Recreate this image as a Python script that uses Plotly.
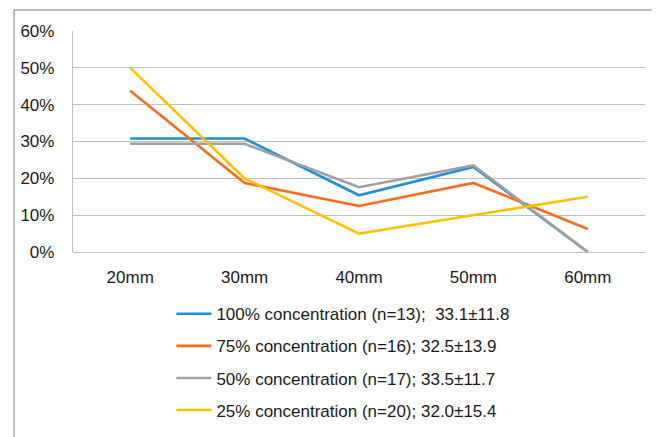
import plotly.graph_objects as go

categories = ["20mm", "30mm", "40mm", "50mm", "60mm"]
s100 = [30.8, 30.8, 15.4, 23.1, 0.0]
s75 = [43.75, 18.75, 12.5, 18.75, 6.25]
s50 = [29.4, 29.4, 17.6, 23.5, 0.0]
s25 = [50.0, 20.0, 5.0, 10.0, 15.0]
names = [
    "100% concentration (n=13);  33.1±11.8",
    "75% concentration (n=16); 32.5±13.9",
    "50% concentration (n=17); 33.5±11.7",
    "25% concentration (n=20); 32.0±15.4",
]
colors = ["#1E8FD8", "#FF6A1A", "#A0A0A0", "#FFC000"]
y_ticks = [0, 10, 20, 30, 40, 50, 60]
y_labels = ["0%", "10%", "20%", "30%", "40%", "50%", "60%"]

fig = go.Figure()
for i, (vals, nm, col) in enumerate(zip([s100, s75, s50, s25], names, colors)):
    fig.add_trace(go.Scatter(
        x=categories, y=vals, name=nm, mode="lines",
        line=dict(color=col, width=2.6),
        legendgroup=f"g{i}",
    ))

font = "Liberation Sans"
fig.update_layout(
    width=660, height=437,
    margin=dict(l=60, r=23, t=23, b=193),
    paper_bgcolor="white", plot_bgcolor="white",
    font=dict(family=font, size=17, color="#1a1a1a"),
    showlegend=True,
    legend=dict(
        x=0.172, y=-0.2, xanchor="left", yanchor="top",
        tracegroupgap=7, font=dict(family=font, size=17),
        bgcolor="rgba(0,0,0,0)", itemwidth=35,
    ),
    xaxis=dict(
        type="category", range=[-0.5, 4.5],
        showgrid=False, showline=False, zeroline=False,
        ticks="", tickfont=dict(family=font, size=17), ticklabelstandoff=13,
    ),
    yaxis=dict(
        range=[0, 60], tickvals=y_ticks, ticktext=y_labels,
        showgrid=True, gridcolor="#BFBFBF", gridwidth=1.3,
        zeroline=True, zerolinecolor="#BFBFBF", zerolinewidth=1.3,
        showline=True, linecolor="#BFBFBF", linewidth=1.3,
        ticks="", tickfont=dict(family=font, size=17), ticklabelstandoff=14,
    ),
    shapes=[dict(
        type="rect", xref="paper", yref="paper",
        x0=-0.103, x1=1.2, y0=-1.2, y1=1.095,
        line=dict(color="#A6A6A6", width=1.5), fillcolor="rgba(0,0,0,0)",
        layer="below",
    )],
)

fig.write_html("out.html")
